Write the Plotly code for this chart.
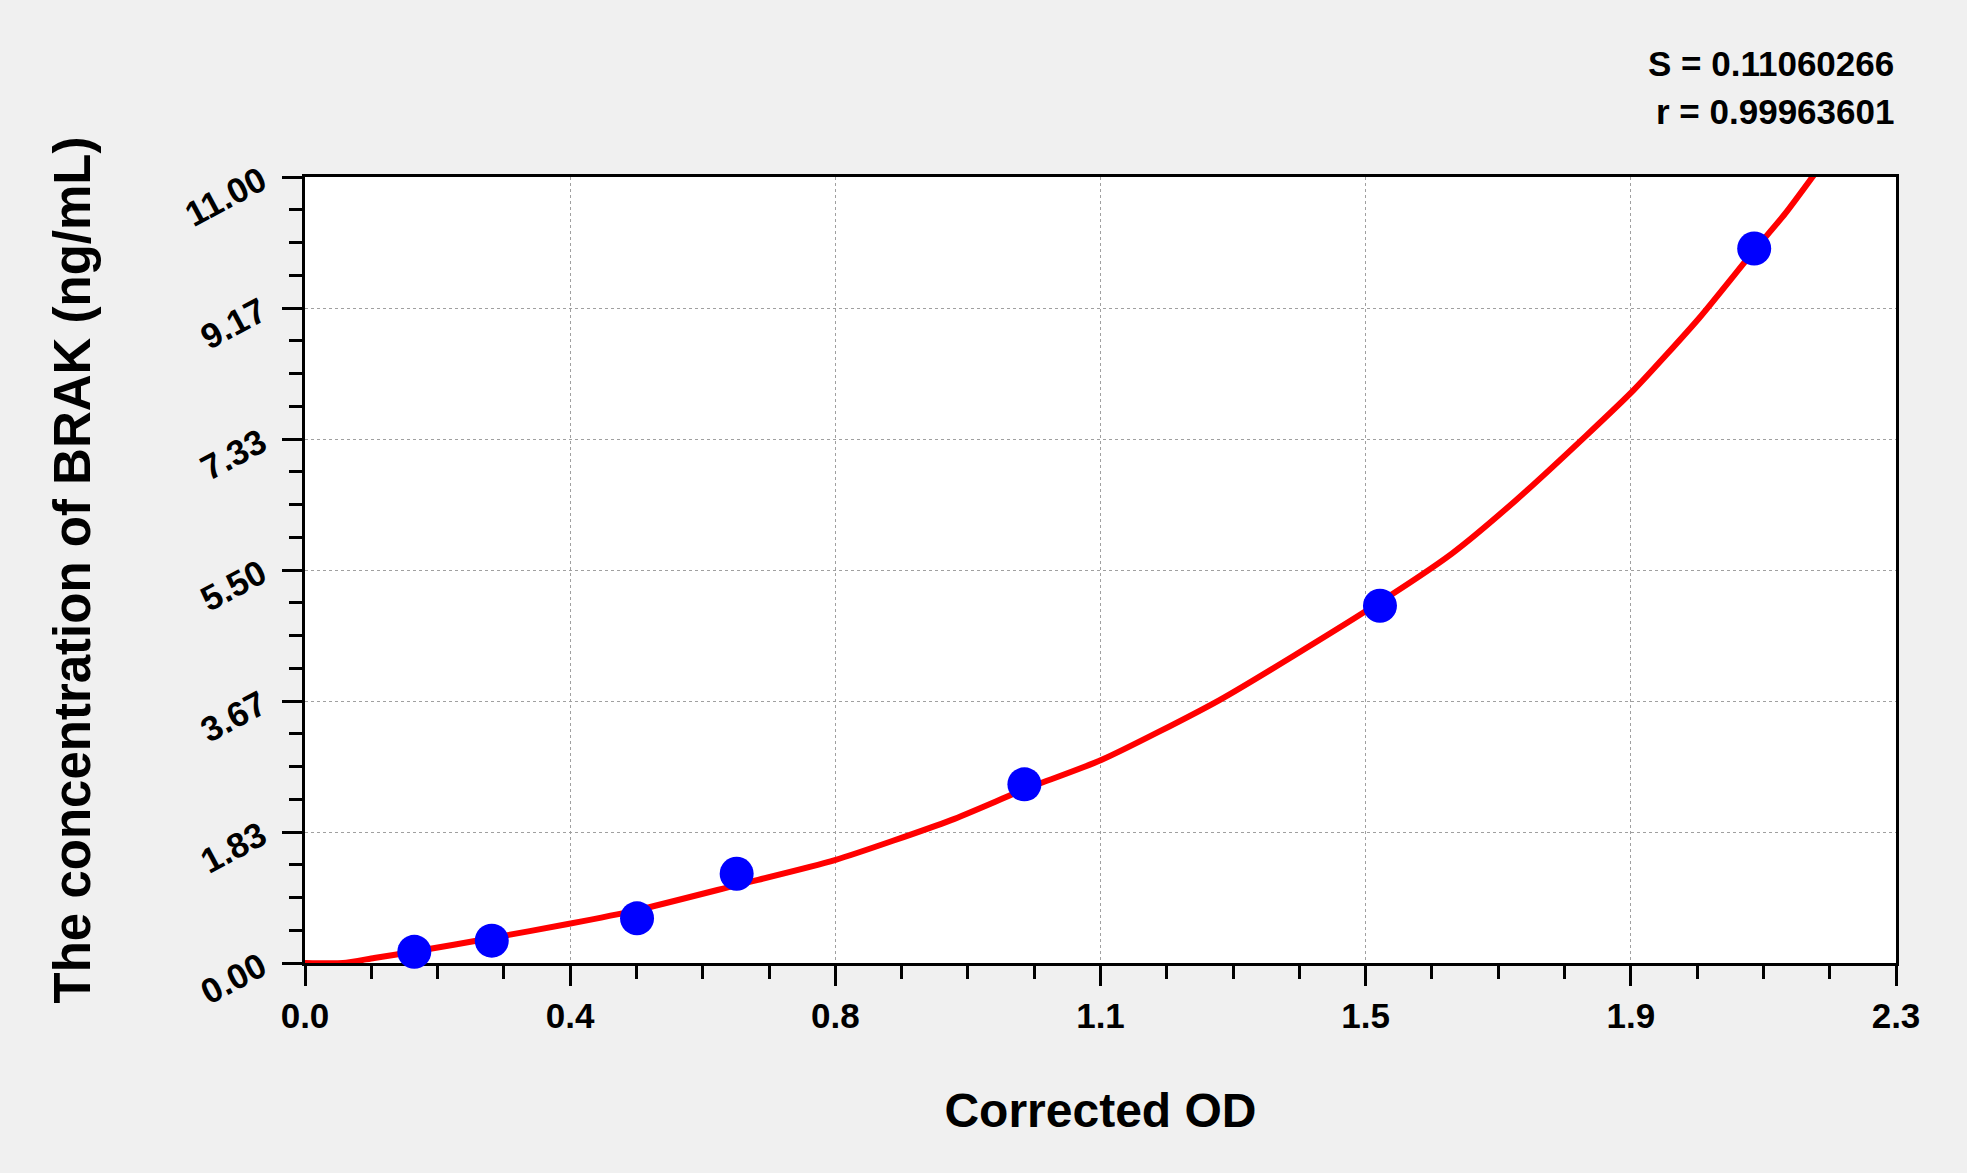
import numpy as np
import plotly.graph_objects as go

# Standard points
od_points = [0.158, 0.270, 0.480, 0.624, 1.040, 1.554, 2.095]
conc_points = [0.156, 0.313, 0.625, 1.25, 2.5, 5.0, 10.0]

# Fitted curve
curve_od = [0.000, 0.055, 0.100, 0.158, 0.270, 0.380, 0.480, 0.624, 0.766, 0.934,
            1.040, 1.151, 1.322, 1.536, 1.658, 1.751, 1.851, 1.921, 2.015, 2.094,
            2.140, 2.186]
curve_conc = [0.00, 0.00, 0.07, 0.16, 0.35, 0.545, 0.74, 1.09, 1.44, 2.00,
              2.43, 2.84, 3.68, 4.94, 5.73, 6.48, 7.37, 8.02, 9.02, 9.96,
              10.49, 11.09]

x_tick_labels = ["0.0", "0.4", "0.8", "1.1", "1.5", "1.9", "2.3"]
y_tick_labels = ["0.00", "1.83", "3.67", "5.50", "7.33", "9.17", "11.00"]
stats_text = ["S = 0.11060266", "r = 0.99963601"]

X_MAX = 2.3
Y_MAX = 11.0
x_tickvals = np.linspace(0, X_MAX, len(x_tick_labels))
y_tickvals = np.linspace(0, Y_MAX, len(y_tick_labels))

FONT = "Liberation Sans, Arial, sans-serif"

fig = go.Figure()
fig.add_trace(go.Scatter(
    x=curve_od, y=curve_conc, mode="lines",
    line=dict(color="#FF0000", width=6, shape="spline", smoothing=0.6),
    showlegend=False, hoverinfo="skip",
))
fig.add_trace(go.Scatter(
    x=od_points, y=conc_points, mode="markers",
    marker=dict(color="#0000FF", size=34, line=dict(width=0)),
    cliponaxis=False, showlegend=False,
))

axis_common = dict(
    showline=True, linecolor="black", linewidth=3, mirror=True,
    ticks="outside", ticklen=20, tickwidth=3, tickcolor="black",
    showgrid=True, gridcolor="#A0A0A0", griddash="3px,3px", gridwidth=1,
    zeroline=False, layer="below traces",
    tickfont=dict(family=FONT, size=35, color="black", weight="bold"),
)

fig.update_xaxes(
    **axis_common,
    range=[0, X_MAX], tickmode="array", tickvals=x_tickvals, ticktext=x_tick_labels,
    minor=dict(ticks="outside", ticklen=13, tickwidth=3, tickcolor="black",
               tick0=0, dtick=X_MAX / 24, showgrid=False),
    ticklabelstandoff=0,
    title=dict(text="Corrected OD", standoff=60,
               font=dict(family=FONT, size=48, color="black", weight="bold")),
)
fig.update_yaxes(
    **axis_common,
    range=[0, Y_MAX], tickmode="array", tickvals=y_tickvals, ticktext=y_tick_labels,
    tickangle=-28,
    ticklabelstandoff=14,
    minor=dict(ticks="outside", ticklen=13, tickwidth=3, tickcolor="black",
               tick0=0, dtick=Y_MAX / 24, showgrid=False),
    title=dict(text="The concentration of BRAK (ng/mL)", standoff=72,
               font=dict(family=FONT, size=51, color="black", weight="bold")),
)

for txt, yp in zip(stats_text, [1.1438, 1.0827]):
    fig.add_annotation(
        text=txt, xref="paper", yref="paper", x=1.0, y=yp,
        xanchor="right", yanchor="middle", showarrow=False,
        font=dict(family=FONT, size=35, color="black", weight="bold"),
    )

fig.update_layout(
    width=1967, height=1173,
    paper_bgcolor="#F0F0F0", plot_bgcolor="white",
    margin=dict(l=305, r=71, t=177, b=210, autoexpand=False),
    showlegend=False,
)

fig.write_html(
    "out.html",
    config={"displayModeBar": False},
    post_script="document.body.style.margin='0';document.body.style.background='#F0F0F0';document.body.style.overflow='hidden';",
)
